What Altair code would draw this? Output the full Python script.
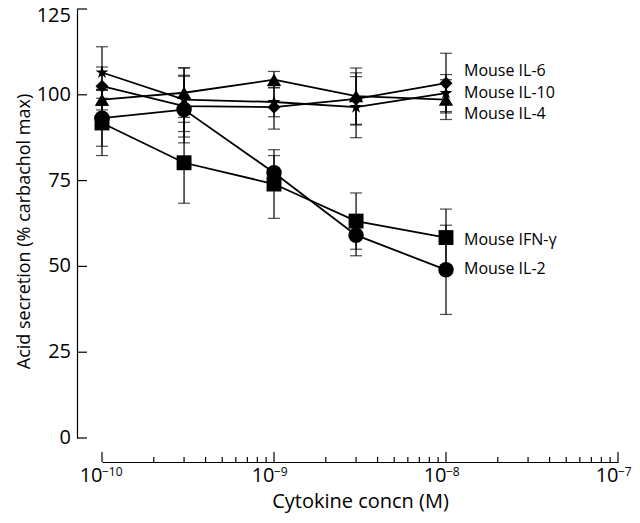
import altair as alt
import pandas as pd

# ---- data ----
conc = [1e-10, 3e-10, 1e-9, 3e-9, 1e-8]
series = ["Mouse IL-6", "Mouse IL-10", "Mouse IL-4", "Mouse IFN-γ", "Mouse IL-2"]

il6_mean = [102.5, 96.7, 96.4, 98.8, 103.4]
il6_sem = [5.6, 9.0, 6.4, 7.6, 8.7]
il10_mean = [106.5, 98.6, 97.9, 96.4, 100.5]
il10_sem = [7.5, 9.3, 4.3, 8.9, 5.4]
il4_mean = [98.6, 100.6, 104.4, 99.6, 98.6]
il4_sem = [3.0, 7.2, 2.4, 8.2, 5.8]
ifng_mean = [91.8, 80.2, 74.0, 63.2, 58.4]
ifng_sem = [9.5, 11.8, 10.0, 8.2, 8.3]
il2_mean = [93.2, 95.7, 77.3, 59.1, 49.0]
il2_sem = [8.2, 9.7, 5.0, 6.0, 13.0]

label_y = [106.8, 100.6, 94.4, 57.8, 49.3]

y_ticks = [0, 25, 50, 75, 100]
y_top = [125]
x_major = [1e-10, 1e-9, 1e-8, 1e-7]
x_exp = ["−10", "−9", "−8", "−7"]
x_minor = [m * 10.0 ** e for e in (-10, -9, -8) for m in range(2, 10)]

means = [il6_mean, il10_mean, il4_mean, ifng_mean, il2_mean]
sems = [il6_sem, il10_sem, il4_sem, ifng_sem, il2_sem]

STAR = ("M0,-1L0.2245,-0.309L0.951,-0.309L0.363,0.118L0.588,0.809L0,0.382"
        "L-0.588,0.809L-0.363,0.118L-0.951,-0.309L-0.2245,-0.309Z")
shapes = ["diamond", STAR, "triangle-up", "square", "circle"]
sizes = [170, 240, 170, 125, 140]

rows = []
for s, m, e in zip(series, means, sems):
    for c, mv, ev in zip(conc, m, e):
        rows.append({"series": s, "conc": c, "mean": mv, "lo": mv - ev, "hi": mv + ev})
df = pd.DataFrame(rows)
lab_df = pd.DataFrame({"series": series, "conc": [conc[-1]] * 5, "y": label_y})

FONT = "Open Sans"
W, H = 516, 429
XOFF, YOFF = 24, 25
TICKFS = 20

xs = alt.Scale(type="log", domain=[1e-10, 1e-7])
ys = alt.Scale(domain=[0, 125], nice=False, zero=False)

x_axis = alt.Axis(values=x_major, labelExpr="'10'", ticks=False, grid=False,
                  offset=XOFF, title="Cytokine concn (M)", labelPadding=3,
                  labelAlign="right", titleFontSize=20,
                  titlePadding=6, domainColor="black", domainWidth=1.2)
y_axis = alt.Axis(values=y_ticks + y_top, labels=False, ticks=False, grid=False, offset=YOFF,
                  title="Acid secretion (% carbachol max)", titleFontSize=18,
                  titlePadding=44, titleY=222, domainColor="black", domainWidth=1.2)

base = alt.Chart(df)

err = base.mark_rule(color="black", strokeWidth=1.2).encode(
    x=alt.X("conc:Q", scale=xs, axis=x_axis),
    y=alt.Y("lo:Q", scale=ys, axis=y_axis),
    y2="hi:Q",
)
cap_lo = base.mark_tick(color="black", orient="horizontal", size=12, thickness=1.2).encode(
    x=alt.X("conc:Q", scale=xs), y=alt.Y("lo:Q", scale=ys))
cap_hi = base.mark_tick(color="black", orient="horizontal", size=12, thickness=1.2).encode(
    x=alt.X("conc:Q", scale=xs), y=alt.Y("hi:Q", scale=ys))

lines = base.mark_line(color="black", strokeWidth=1.8).encode(
    x=alt.X("conc:Q", scale=xs), y=alt.Y("mean:Q", scale=ys), detail="series:N")

pts = base.mark_point(filled=True, color="black", opacity=1).encode(
    x=alt.X("conc:Q", scale=xs),
    y=alt.Y("mean:Q", scale=ys),
    shape=alt.Shape("series:N", scale=alt.Scale(domain=series, range=shapes), legend=None),
    size=alt.Size("series:N", scale=alt.Scale(domain=series, range=sizes), legend=None),
)

labels = alt.Chart(lab_df).mark_text(align="left", baseline="middle", dx=18,
                                     fontSize=16, font=FONT, color="black").encode(
    x=alt.X("conc:Q", scale=xs), y=alt.Y("y:Q", scale=ys), text="series:N")

# y tick marks (inward) and labels
yticks = alt.Chart(pd.DataFrame({"t": y_ticks + y_top})).mark_rule(
    color="black", strokeWidth=1.2).encode(
    y=alt.Y("t:Q", scale=ys), x=alt.value(-YOFF), x2=alt.value(-YOFF + 10))
ylab = alt.Chart(pd.DataFrame({"t": y_ticks})).mark_text(
    align="right", baseline="middle", fontSize=TICKFS, font=FONT, color="black").encode(
    y=alt.Y("t:Q", scale=ys), x=alt.value(-YOFF - 6), text="t:Q")
ylab_top = alt.Chart(pd.DataFrame({"t": y_top})).mark_text(
    align="right", baseline="middle", fontSize=TICKFS, font=FONT, color="black", dy=7).encode(
    y=alt.Y("t:Q", scale=ys), x=alt.value(-YOFF - 6), text="t:Q")

# x tick marks (inward) and exponent labels
xmaj = alt.Chart(pd.DataFrame({"t": x_major})).mark_rule(color="black", strokeWidth=1.2).encode(
    x=alt.X("t:Q", scale=xs), y=alt.value(H + XOFF), y2=alt.value(H + XOFF - 10))
xmin = alt.Chart(pd.DataFrame({"t": x_minor})).mark_rule(color="black", strokeWidth=1.2).encode(
    x=alt.X("t:Q", scale=xs), y=alt.value(H + XOFF), y2=alt.value(H + XOFF - 5))
xexp = alt.Chart(pd.DataFrame({"t": x_major, "e": x_exp})).mark_text(
    align="left", baseline="middle", fontSize=12, font=FONT, color="black", dx=0).encode(
    x=alt.X("t:Q", scale=xs), y=alt.value(H + XOFF + 10), text="e:N")

chart = alt.layer(err, cap_lo, cap_hi, lines, pts, labels, yticks, ylab, ylab_top,
                  xmaj, xmin, xexp).properties(
    width=W, height=H,
    autosize=alt.AutoSizeParams(type="none"),
    padding={"left": 94, "top": 1, "right": 14, "bottom": 77},
).configure_view(stroke=None).configure_axis(
    labelFont=FONT, titleFont=FONT, labelFontSize=TICKFS,
    labelColor="black", titleColor="black", titleFontWeight="normal",
)

chart.save("out.html", embed_options={"renderer": "svg", "actions": False})
